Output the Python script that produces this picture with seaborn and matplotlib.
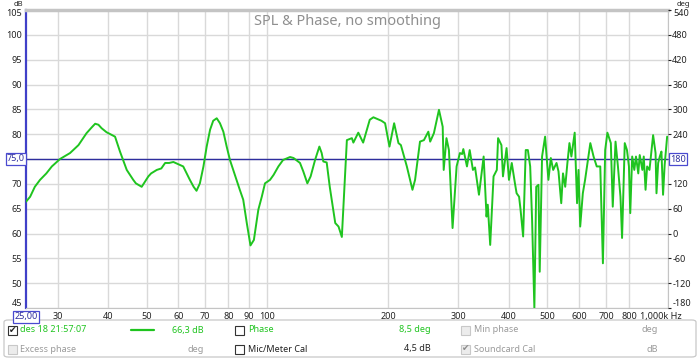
import matplotlib
matplotlib.use("Agg")

import matplotlib.pyplot as plt
from matplotlib.patches import FancyBboxPatch, Rectangle
import pandas as pd
import seaborn as sns

freq_hz = [
    25.0, 25.6, 26.3, 27.1, 28.1, 29.0, 30.4, 32.2, 33.8, 35.4, 36.5, 37.2,
    37.9, 38.6, 39.7, 41.7, 42.9, 44.6, 46.3, 47.0, 48.6, 50.5, 51.3, 53.0,
    54.4, 55.6, 56.9, 58.3, 61.7, 64.1, 65.5, 66.6, 67.9, 69.3, 70.6, 72.0,
    73.3, 74.8, 76.2, 77.7, 79.2, 80.7, 83.8, 85.4, 87.1, 88.9, 90.8, 92.6,
    95.0, 96.9, 98.7, 101.6, 103.7, 106.6, 109.5, 114.0, 116.3, 120.7, 123.0,
    125.9, 128.3, 131.6, 134.9, 136.7, 138.0, 140.7, 143.2, 147.8, 150.6,
    153.5, 158.0, 162.6,
    164.0, 168.7, 173.5, 180.2, 184.0, 192.7, 196.8, 201.8, 207.3, 212.5,
    215.5, 223.0, 230.3, 233.8, 240.5, 246.0, 252.3, 255.0, 260.5, 268.2,
    274.0, 275.6, 280.0, 284.0, 290.0, 296.8, 302.5, 306.4, 308.5, 315.0,
    320.0, 326.0, 330.0, 337.5, 346.7, 352.5, 355.0, 360.0, 367.0, 374.0,
    376.7, 384.0, 387.4, 395.5, 401.0, 407.5, 415.0, 419.0, 425.0, 428.6,
    435.0, 441.6, 447.0, 453.0, 458.0, 464.0, 469.0, 475.0, 478.5, 485.0,
    493.5, 503.0, 510.0, 517.0, 527.0, 533.0, 541.5, 547.0, 554.0, 561.0,
    567.6, 574.0, 585.0, 593.0, 598.0, 603.8, 613.0, 621.0, 640.0, 652.0,
    664.0, 677.6, 688.0, 697.0, 706.0, 720.0, 728.0, 739.7, 750.0, 761.0,
    768.0, 780.0, 790.0, 799.0, 805.0, 814.0, 824.0, 832.0, 843.0, 850.0,
    863.0, 870.0, 879.0, 887.0, 899.0, 918.0, 931.0, 936.0, 945.0, 954.0,
    963.0, 972.0, 981.0, 995.0,
]
spl_db = [
    66.4, 67.4, 69.4, 70.8, 72.1, 73.5, 75.0, 76.2, 77.8, 80.2, 81.4, 82.1,
    81.9, 81.2, 80.4, 79.5, 76.5, 72.8, 70.8, 70.1, 69.4, 71.5, 72.1, 72.8,
    73.1, 74.2, 74.2, 74.4, 73.5, 70.8, 69.4, 68.6, 70.1, 73.5, 77.5, 80.9,
    82.7, 83.2, 82.2, 80.5, 77.5, 74.8, 70.8, 68.8, 66.8, 62.1, 57.6, 58.7,
    64.8, 67.4, 70.1, 70.8, 71.8, 73.5, 74.8, 75.4, 75.2, 74.2, 72.5,
    70.1, 71.5, 74.8, 77.5, 76.2, 74.5, 74.3, 69.4, 62.1, 61.4,
    59.3, 78.8, 79.2,
    78.3, 80.3, 78.3, 82.9, 83.4, 82.7, 82.2, 77.5, 82.2, 78.2,
    77.8, 73.5, 68.8, 70.8, 78.5, 78.8, 80.5, 78.5, 80.2, 84.9,
    81.5, 72.8, 79.2, 76.8, 61.1, 73.5, 76.2, 76.0, 77.0, 73.5,
    76.8, 72.8, 73.3, 67.8, 75.5, 63.4, 65.8, 57.7, 71.5, 72.8,
    79.2, 77.8, 71.5, 77.2, 70.8, 74.2, 70.1, 68.1, 67.4, 64.8,
    59.4, 76.8, 76.8, 73.5, 62.7, 45.0, 69.4, 69.8, 52.3, 75.5,
    79.5, 70.8, 75.2, 72.8, 74.2, 72.5, 66.1, 72.1, 69.4, 74.2,
    78.2, 75.5, 80.3, 66.1, 72.8, 61.4, 68.1, 70.8, 78.2, 75.5,
    73.5, 73.5, 54.0, 76.8, 80.3, 78.2, 65.4, 78.5, 73.5, 67.4,
    59.1, 78.2, 76.8, 73.5, 64.1, 75.5, 72.8, 75.5, 72.1, 75.8,
    72.8, 75.5, 68.8, 73.5, 72.8, 79.8, 76.2, 68.1, 74.2, 75.5,
    76.5, 67.8, 73.8, 79.5,
]

x_ticks = [30, 40, 50, 60, 70, 80, 90, 100, 200, 300, 400, 500, 600, 700, 800]
x_tick_labels = ["30", "40", "50", "60", "70", "80", "90", "100",
                 "200", "300", "400", "500", "600", "700", "800"]
db_ticks = list(range(45, 106, 5))
deg_ticks = list(range(-180, 541, 60))
ref_db = 75
ref_deg = 180
title = "SPL & Phase, no smoothing"

GREEN = "#1fc41f"
NAVY = "#2e2e9e"
GRID = "#d9d9d9"
GREY_TXT = "#9a9a9a"
TXT = "#222222"

sns.set_style("white")
plt.rcParams["font.family"] = ["Noto Sans", "DejaVu Sans"]

W, H = 700, 359


def fx(px):
    return px / W


def fy(py):
    return 1 - py / H


fig = plt.figure(figsize=(7, 3.59), dpi=100)
ax = fig.add_axes([fx(26), fy(308), (668 - 26) / W, (308 - 10) / H])

df = pd.DataFrame({"freq": freq_hz, "spl": spl_db})
sns.lineplot(data=df, x="freq", y="spl", ax=ax, color=GREEN, linewidth=1.4,
             estimator=None, sort=False, zorder=3)
ax.set_xscale("log")
ax.set_xlim(25, 1000)
ax.set_ylim(45, 105)
ax.set_xlabel("")
ax.set_ylabel("")

ax.set_xticks(x_ticks + [1000])
ax.set_xticklabels(x_tick_labels + [""])
ax.set_xticks([], minor=True)
ax.set_yticks(db_ticks)
# reference value and the two end values are written separately below
ax.set_yticklabels(["" if t in (ref_db, db_ticks[0], db_ticks[-1]) else str(t)
                    for t in db_ticks])
ax.grid(True, color=GRID, linewidth=1)
ax.tick_params(axis="both", length=0, labelsize=6.5, colors=TXT, pad=3)
ax.axhline(ref_db, color=NAVY, linewidth=1, zorder=2)

for side in ["top", "bottom", "right"]:
    ax.spines[side].set_color("#c4c4c4")
ax.spines["top"].set_linewidth(2.5)
ax.spines["left"].set_color("#4040c8")
ax.spines["left"].set_linewidth(1.6)

ax2 = ax.twinx()
ax2.set_ylim(-180, 540)
ax2.set_yticks(deg_ticks)
ax2.set_yticklabels(["" if t in (ref_deg, deg_ticks[0], deg_ticks[-1]) else str(t)
                     for t in deg_ticks])
ax2.tick_params(axis="y", length=2, labelsize=6.5, colors=TXT, pad=1)
for s in ax2.spines.values():
    s.set_visible(False)

ax.text(0.5, 0.985, title, transform=ax.transAxes, ha="center", va="top",
        fontsize=10.5, color="#8f8f8f", fontweight="bold")

# axis end labels and units, nudged like the screenshot
fig.text(fx(22), fy(304), str(db_ticks[0]), fontsize=6.5, ha="right", va="center", color=TXT)
fig.text(fx(22), fy(14), str(db_ticks[-1]), fontsize=6.5, ha="right", va="center", color=TXT)
fig.text(fx(673), fy(304), str(deg_ticks[0]), fontsize=6.5, ha="left", va="center", color=TXT)
fig.text(fx(673), fy(14), str(deg_ticks[-1]), fontsize=6.5, ha="left", va="center", color=TXT)
fig.text(fx(18), fy(0.5), "dB", fontsize=5.5, ha="center", va="top", color=TXT)
fig.text(fx(683), fy(0.5), "deg", fontsize=5.5, ha="center", va="top", color=TXT)
fig.text(fx(661), fy(317), "1,000k Hz", fontsize=6.5, ha="center", va="center", color=TXT)

box = dict(boxstyle="square,pad=0.15", fc="white", ec="#4a4ad0", lw=0.9)
fig.text(fx(16), fy(159), "75,0", fontsize=6.5, ha="center", va="center", color=NAVY, bbox=box)
fig.text(fx(678), fy(159), "180", fontsize=6.5, ha="center", va="center", color=NAVY, bbox=box)
fig.text(fx(26), fy(317), "25,00", fontsize=6.5, ha="center", va="center", color=NAVY, bbox=box)

# legend / control panel underneath
panel = FancyBboxPatch((fx(4), fy(357)), fx(692), (357 - 320) / H,
                       boxstyle="round,pad=0,rounding_size=0.006",
                       transform=fig.transFigure, fc="white", ec="#c8c8c8", lw=0.9)
fig.patches.append(panel)


def checkbox(px, py, checked=False, enabled=True):
    s = 9
    ec = "#333333" if enabled else "#c8c8c8"
    fc = "white" if enabled else "#ececec"
    fig.patches.append(Rectangle((fx(px), fy(py + s / 2)), s / W, s / H,
                                 transform=fig.transFigure, fc=fc, ec=ec, lw=0.8))
    if checked:
        fig.text(fx(px + s / 2), fy(py), "\u2714", fontsize=6.5, ha="center", va="center",
                 color=TXT if enabled else "#8a8a8a", family=["DejaVu Sans"])


r1, r2 = 330, 349
checkbox(8, r1, checked=True)
fig.text(fx(20), fy(r1), "des 18 21:57:07", fontsize=6.5, va="center", color=GREEN)
fig.lines.append(plt.Line2D([fx(131), fx(154)], [fy(r1), fy(r1)], transform=fig.transFigure,
                            color=GREEN, lw=1.6))
fig.text(fx(204), fy(r1), "66,3 dB", fontsize=6.5, va="center", ha="right", color=GREEN)
checkbox(235, r1)
fig.text(fx(248), fy(r1), "Phase", fontsize=6.5, va="center", color=GREEN)
fig.text(fx(431), fy(r1), "8,5 deg", fontsize=6.5, va="center", ha="right", color=GREEN)
checkbox(461, r1, enabled=False)
fig.text(fx(474), fy(r1), "Min phase", fontsize=6.5, va="center", color=GREY_TXT)
fig.text(fx(658), fy(r1), "deg", fontsize=6.5, va="center", ha="right", color=GREY_TXT)

checkbox(8, r2, enabled=False)
fig.text(fx(20), fy(r2), "Excess phase", fontsize=6.5, va="center", color=GREY_TXT)
fig.text(fx(204), fy(r2), "deg", fontsize=6.5, va="center", ha="right", color=GREY_TXT)
checkbox(235, r2)
fig.text(fx(248), fy(r2), "Mic/Meter Cal", fontsize=6.5, va="center", color=TXT)
fig.text(fx(431), fy(r2), "4,5 dB", fontsize=6.5, va="center", ha="right", color=TXT)
checkbox(461, r2, checked=True, enabled=False)
fig.text(fx(474), fy(r2), "Soundcard Cal", fontsize=6.5, va="center", color=GREY_TXT)
fig.text(fx(658), fy(r2), "dB", fontsize=6.5, va="center", ha="right", color=GREY_TXT)

fig.savefig("out.png", dpi=100)
plt.close(fig)
